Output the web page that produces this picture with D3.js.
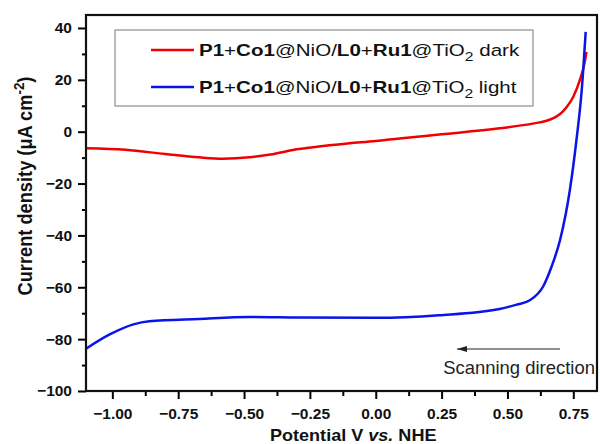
<!DOCTYPE html>
<html>
<head>
<meta charset="utf-8">
<script src="https://cdn.jsdelivr.net/npm/d3@7"></script>
<style>
  body { margin: 0; background: #fff; }
  svg text { font-family: Arial, "Liberation Sans", sans-serif; }
</style>
</head>
<body>
<svg id="svg0" width="600" height="444"></svg>
<script>

// dark scan (red)
var potentialDark = [-1.1, -0.95, -0.8, -0.67, -0.58, -0.48, -0.4, -0.3, -0.2, -0.1, 0.0, 0.09, 0.25, 0.47, 0.6, 0.66, 0.7, 0.725, 0.75, 0.775, 0.795, 0.8];
var currentDark = [-6.4, -7.0, -8.6, -9.9, -10.4, -9.9, -8.8, -6.8, -5.5, -4.5, -3.6, -2.6, -1.0, 1.3, 3.2, 4.6, 6.8, 9.5, 13.5, 20, 27.6, 30.8];

// light scan (blue)
var potentialLight = [-1.1, -1.01, -0.92, -0.86, -0.67, -0.48, -0.29, 0.0, 0.24, 0.47, 0.535, 0.585, 0.636, 0.668, 0.7, 0.737, 0.762, 0.782, 0.797];
var currentLight = [-83.7, -78.2, -74.3, -73.1, -72.2, -71.5, -71.7, -71.8, -70.8, -68.4, -66.7, -65.0, -59.6, -51.9, -41.7, -22.5, -3.2, 16, 38.5];

var xTicks = [-1.0, -0.75, -0.5, -0.25, 0.0, 0.25, 0.5, 0.75];
var xMinor = [-0.875, -0.625, -0.375, -0.125, 0.125, 0.375, 0.625];
var yTicks = [-100, -80, -60, -40, -20, 0, 20, 40];
var yMinor = [-90, -70, -50, -30, -10, 10, 30];

var marginLeft = 86, plotRight = 597, marginTop = 15, plotBottom = 391;

var svg0 = d3.select('#svg0').append('g');

var x = d3.scaleLinear().domain([-1.1, 0.84]).range([marginLeft, plotRight]);
var y = d3.scaleLinear().domain([-100, 45]).range([plotBottom, marginTop]);

// stretch a text horizontally so it covers a given width, keeping x0 fixed
function fitWidth(sel, x0, target) {
    var bb = sel.node().getBBox();
    var k = target / bb.width;
    sel.attr('transform', 'translate(' + x0 + ',0) scale(' + k + ',1) translate(' + (-x0) + ',0)');
}

// minor ticks first
svg0.append('g')
    .attr('transform', 'translate(0,' + plotBottom + ')')
    .call(d3.axisBottom(x).tickValues(xMinor).tickSize(5).tickFormat(''))
    .call(function(g) { g.select('.domain').remove(); })
    .selectAll('line').attr('stroke-width', 2);

svg0.append('g')
    .attr('transform', 'translate(' + marginLeft + ',0)')
    .call(d3.axisLeft(y).tickValues(yMinor).tickSize(4).tickFormat(''))
    .call(function(g) { g.select('.domain').remove(); })
    .selectAll('line').attr('stroke-width', 2);

var xAxis = svg0.append('g')
    .attr('transform', 'translate(0,' + plotBottom + ')')
    .call(d3.axisBottom(x).tickValues(xTicks).tickSize(8).tickPadding(9).tickFormat(d3.format('.2f')));
xAxis.select('.domain').remove();
xAxis.selectAll('line').attr('stroke-width', 2);
xAxis.selectAll('text')
    .attr('font-size', 15.5)
    .attr('font-weight', 'bold')
    .attr('fill', '#111')
    .style('font-family', 'Arial, "Liberation Sans", sans-serif');

var yAxis = svg0.append('g')
    .attr('transform', 'translate(' + marginLeft + ',0)')
    .call(d3.axisLeft(y).tickValues(yTicks).tickSize(8).tickPadding(6));
yAxis.select('.domain').remove();
yAxis.selectAll('line').attr('stroke-width', 2);
yAxis.selectAll('text')
    .attr('font-size', 15.5)
    .attr('font-weight', 'bold')
    .attr('fill', '#111')
    .style('font-family', 'Arial, "Liberation Sans", sans-serif');

// curves
var line = d3.line()
    .x(function(d) { return x(d[0]); })
    .y(function(d) { return y(d[1]); })
    .curve(d3.curveMonotoneX);

svg0.append('path')
    .datum(d3.zip(potentialDark, currentDark))
    .attr('d', line)
    .attr('fill', 'none')
    .attr('stroke', '#f00000')
    .attr('stroke-width', 2.5);

svg0.append('path')
    .datum(d3.zip(potentialLight, currentLight))
    .attr('d', line)
    .attr('fill', 'none')
    .attr('stroke', '#0a14e6')
    .attr('stroke-width', 2.5);

// frame
svg0.append('rect')
    .attr('x', marginLeft)
    .attr('y', marginTop)
    .attr('width', plotRight - marginLeft)
    .attr('height', plotBottom - marginTop)
    .attr('fill', 'none')
    .attr('stroke', '#111')
    .attr('stroke-width', 2.2);

// legend
svg0.append('rect')
    .attr('x', 115)
    .attr('y', 30)
    .attr('width', 418)
    .attr('height', 76)
    .attr('fill', '#fff')
    .attr('stroke', '#777')
    .attr('stroke-width', 1);

var legendRows = [
    {color: '#f00000', word: 'dark', y: 50, w: 321},
    {color: '#0a14e6', word: 'light', y: 87, w: 318}
];

legendRows.forEach(function(r) {
    svg0.append('line')
        .attr('x1', 151).attr('x2', 194)
        .attr('y1', r.y).attr('y2', r.y)
        .attr('stroke', r.color)
        .attr('stroke-width', 2.5);
    var t = svg0.append('text')
        .attr('x', 199)
        .attr('y', r.y + 6)
        .attr('font-size', 17)
        .attr('fill', '#111');
    t.append('tspan').attr('font-weight', 'bold').text('P1');
    t.append('tspan').text('+');
    t.append('tspan').attr('font-weight', 'bold').text('Co1');
    t.append('tspan').text('@NiO/');
    t.append('tspan').attr('font-weight', 'bold').text('L0');
    t.append('tspan').text('+');
    t.append('tspan').attr('font-weight', 'bold').text('Ru1');
    t.append('tspan').text('@TiO');
    t.append('tspan').attr('dy', 5).attr('font-size', 13).text('2');
    t.append('tspan').attr('dy', -5).text(' ' + r.word);
    fitWidth(t, 199, r.w);
});

// scanning direction arrow
svg0.append('defs').append('marker')
    .attr('id', 'arrowhead')
    .attr('viewBox', '0 0 10 6')
    .attr('refX', 10)
    .attr('refY', 3)
    .attr('markerWidth', 10)
    .attr('markerHeight', 6)
    .attr('markerUnits', 'userSpaceOnUse')
    .attr('orient', 'auto')
    .append('path')
    .attr('d', 'M0,0 L10,3 L0,6 Z')
    .attr('fill', '#222');

svg0.append('line')
    .attr('x1', 560).attr('x2', 457)
    .attr('y1', 349).attr('y2', 349)
    .attr('stroke', '#222')
    .attr('stroke-width', 1)
    .attr('marker-end', 'url(#arrowhead)');

var scan = svg0.append('text')
    .attr('x', 595)
    .attr('y', 374)
    .attr('text-anchor', 'end')
    .attr('font-size', 18)
    .attr('fill', '#222')
    .text('Scanning direction');
fitWidth(scan, 595, 152);

// axis titles
var xt = svg0.append('text')
    .attr('x', 270)
    .attr('y', 441)
    .attr('font-size', 16)
    .attr('font-weight', 'bold')
    .attr('fill', '#111');
xt.append('tspan').text('Potential V ');
xt.append('tspan').attr('font-style', 'italic').text('vs.');
xt.append('tspan').text(' NHE');
fitWidth(xt, 270, 167);

var yt = svg0.append('text')
    .attr('x', 0)
    .attr('y', 0)
    .attr('text-anchor', 'middle')
    .attr('font-size', 15)
    .attr('font-weight', 'bold')
    .attr('fill', '#111');
yt.append('tspan').text('Current density (\u03bcA cm');
yt.append('tspan').attr('dy', -6).attr('font-size', 11).text('-2');
yt.append('tspan').attr('dy', 6).text(')');
var ytLen = yt.node().getBBox().width;
yt.attr('transform', 'translate(32,186) rotate(-90) scale(' + (219 / ytLen) + ',1.4)');

</script>
</body>
</html>
